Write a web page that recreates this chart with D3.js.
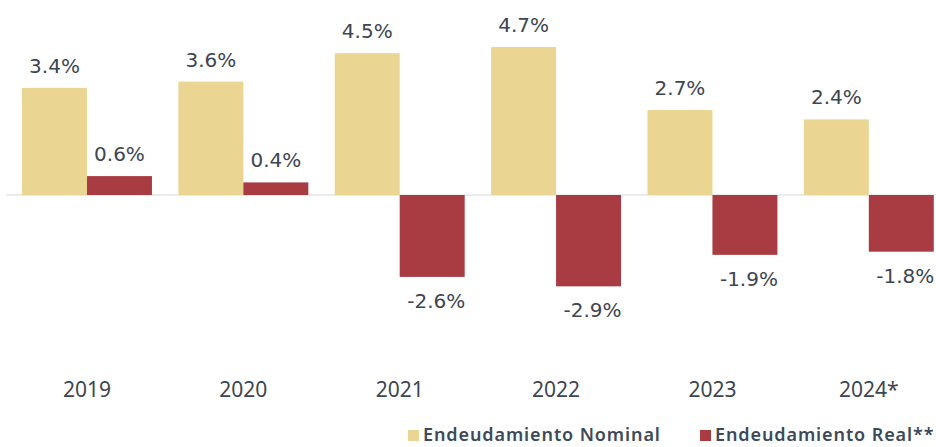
<!DOCTYPE html>
<html>
<head>
<meta charset="utf-8">
<script src="https://cdn.jsdelivr.net/npm/d3@7"></script>
<style>
  body { margin: 0; background: #fff; }
  .value { font-family: "DejaVu Sans", Verdana, sans-serif; font-size: 20px; fill: #3d4550; }
  .year { font-family: "Noto Sans", sans-serif; font-size: 21px; fill: #3d4550; }
  .legend { font-family: "Noto Sans", sans-serif; font-size: 18px; font-weight: 600; fill: #3d4a58; letter-spacing: 0.9px; }
</style>
</head>
<body>
<svg width="936" height="447"></svg>
<script>
// Data
const years = ['2019', '2020', '2021', '2022', '2023', '2024*'];
const nominal = [3.4, 3.6, 4.5, 4.7, 2.7, 2.4];
const real = [0.6, 0.4, -2.6, -2.9, -1.9, -1.8];
const seriesNames = ['Endeudamiento Nominal', 'Endeudamiento Real**'];
const colors = ['#ebd592', '#a93b42'];

const svg = d3.select('svg');

const x = d3.scaleBand()
  .domain(years)
  .range([8.8, 947])
  .paddingInner(0.169)
  .paddingOuter(0.0845);

const xSub = d3.scaleBand()
  .domain(['nominal', 'real'])
  .range([0, x.bandwidth()]);

const y = d3.scaleLinear()
  .domain([-3, 5])
  .range([289.5, 37.5]);

const rows = years.map((yr, i) => ({ year: yr, nominal: nominal[i], real: real[i] }));

// zero line
svg.append('line')
  .attr('x1', 6)
  .attr('x2', 936)
  .attr('y1', y(0))
  .attr('y2', y(0))
  .attr('stroke', '#d6d6d6')
  .attr('stroke-width', 1);

const groups = svg.selectAll('.grp')
  .data(rows)
  .enter()
  .append('g')
  .attr('class', 'grp')
  .attr('transform', d => `translate(${x(d.year)},0)`);

['nominal', 'real'].forEach((key, k) => {
  groups.append('rect')
    .attr('x', xSub(key))
    .attr('width', xSub.bandwidth())
    .attr('y', d => y(Math.max(0, d[key])))
    .attr('height', d => Math.abs(y(d[key]) - y(0)))
    .attr('fill', colors[k]);

  groups.append('text')
    .attr('class', 'value')
    .attr('text-anchor', 'middle')
    .attr('x', d => xSub(key) + xSub.bandwidth() / 2 + (d[key] < 0 ? 4 : 0))
    .attr('y', d => d[key] >= 0 ? y(d[key]) - 15 : y(d[key]) + 31)
    .text(d => d[key].toFixed(1) + '%');
});

// year labels
svg.append('g')
  .selectAll('text')
  .data(years)
  .enter()
  .append('text')
  .attr('class', 'year')
  .attr('text-anchor', 'middle')
  .attr('x', d => x(d) + x.bandwidth() / 2)
  .attr('y', 397)
  .text(d => d);

// legend
const legendX = [408, 700];
const legend = svg.append('g')
  .selectAll('g')
  .data(seriesNames)
  .enter()
  .append('g')
  .attr('transform', (d, i) => `translate(${legendX[i]},430)`);

legend.append('rect')
  .attr('width', 11)
  .attr('height', 11)
  .attr('fill', (d, i) => colors[i]);

legend.append('text')
  .attr('class', 'legend')
  .attr('x', 15)
  .attr('y', 11)
  .text(d => d);
</script>
</body>
</html>
